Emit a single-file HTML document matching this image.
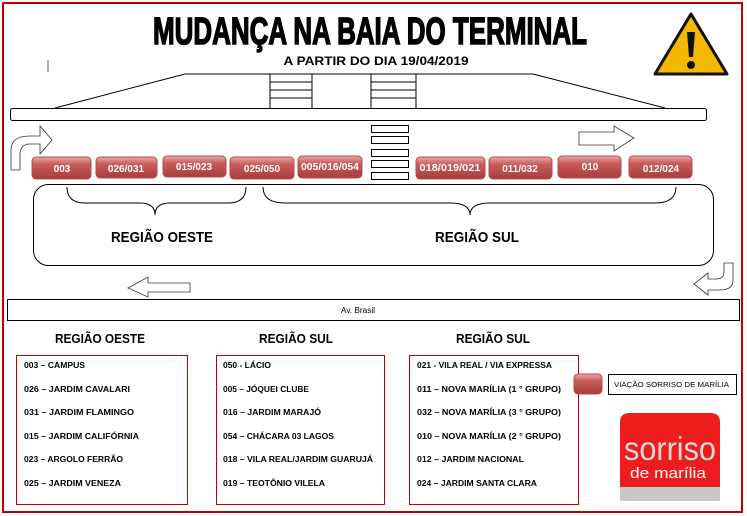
<!DOCTYPE html>
<html><head><meta charset="utf-8"><style>
html,body{margin:0;padding:0;background:#fff;}
svg{display:block;font-family:"Liberation Sans",sans-serif;}
</style></head><body>
<svg width="747" height="516" viewBox="0 0 747 516" xmlns="http://www.w3.org/2000/svg">
<defs>
<linearGradient id="btn" x1="0" y1="0" x2="0" y2="1">
<stop offset="0" stop-color="#e8a8a8"/><stop offset="0.35" stop-color="#c85a5a"/><stop offset="1" stop-color="#a83c3c"/>
</linearGradient>
</defs>
<rect x="3" y="3" width="739" height="509" fill="#fff" stroke="#c00000" stroke-width="2"/>
<!-- title -->
<text x="370" y="44" text-anchor="middle" font-size="38" font-weight="bold" font-family="Liberation Sans Narrow, Liberation Sans, sans-serif" textLength="434" lengthAdjust="spacingAndGlyphs" stroke="#000" stroke-width="1.5">MUDANÇA NA BAIA DO TERMINAL</text>
<text x="376" y="65" text-anchor="middle" font-size="12" font-weight="bold" textLength="185" lengthAdjust="spacingAndGlyphs">A PARTIR DO DIA 19/04/2019</text>
<!-- warning -->
<path d="M691 14 L727 74 L655 74 Z" fill="#f5b800" stroke="#111" stroke-width="3" stroke-linejoin="round"/>
<path d="M687 32 L695 32 L693 57 L689 57 Z" fill="#111"/>
<circle cx="691" cy="65" r="4" fill="#111"/>
<line x1="48" y1="60" x2="48" y2="72" stroke="#555" stroke-width="1"/>
<!-- trapezoid -->
<path d="M55 108 L185 74 L533 74 L665 108" fill="none" stroke="#000" stroke-width="1"/>
<g stroke="#000" stroke-width="1" fill="none">
<line x1="270" y1="74" x2="270" y2="108"/><line x1="312" y1="74" x2="312" y2="108"/>
<line x1="371" y1="74" x2="371" y2="108"/><line x1="416" y1="74" x2="416" y2="108"/>
<line x1="270" y1="82" x2="312" y2="82"/><line x1="270" y1="90" x2="312" y2="90"/><line x1="270" y1="98" x2="312" y2="98"/>
<line x1="371" y1="82" x2="416" y2="82"/><line x1="371" y1="90" x2="416" y2="90"/><line x1="371" y1="98" x2="416" y2="98"/>
</g>
<rect x="10.5" y="108.5" width="696" height="12" rx="2" fill="#fff" stroke="#000"/>
<g fill="#fff" stroke="#000">
<rect x="371.5" y="125.5" width="37" height="7"/><rect x="371.5" y="136.5" width="37" height="7"/>
<rect x="371.5" y="149.5" width="37" height="7"/><rect x="371.5" y="160.5" width="37" height="7"/>
<rect x="371.5" y="172.5" width="37" height="7"/>
</g>
<!-- arrows -->
<path d="M11 170 L11 150 Q11 136 30 136 L40 136 L40 126 L52 140 L40 154 L40 144 L30 144 Q20 144 20 155 L20 170 Z" fill="#fff" stroke="#333" stroke-width="0.8"/>
<path d="M579 132 L614 132 L614 126 L634 138 L614 151 L614 145 L579 145 Z" fill="#fff" stroke="#333" stroke-width="0.8"/>
<path d="M190 283 L148 283 L148 277 L128 288 L148 297 L148 292 L190 292 Z" fill="#fff" stroke="#333" stroke-width="0.8"/>
<path d="M733 263 L733 280 Q733 290 720 290 L708 290 L708 295 L694 284 L708 273 L708 279 L716 279 Q724 279 724 272 L724 263 Z" fill="#fff" stroke="#333" stroke-width="0.8"/>
<!-- buttons -->
<g font-size="10" font-weight="bold" fill="#fff" text-anchor="middle">
<rect x="32" y="157" width="59" height="22" rx="4" fill="url(#btn)" stroke="#b05050"/><text x="62" y="172" fill="#fff">003</text>
<rect x="96" y="157" width="61" height="21" rx="4" fill="url(#btn)" stroke="#b05050"/><text x="126" y="172" fill="#fff">026/031</text>
<rect x="163" y="156" width="63" height="21" rx="4" fill="url(#btn)" stroke="#b05050"/><text x="194" y="170" fill="#fff">015/023</text>
<rect x="230" y="157" width="64" height="22" rx="4" fill="url(#btn)" stroke="#b05050"/><text x="262" y="172" fill="#fff">025/050</text>
<rect x="298" y="156" width="64" height="22" rx="4" fill="url(#btn)" stroke="#b05050"/><text x="330" y="170" fill="#fff" textLength="58" lengthAdjust="spacingAndGlyphs">005/016/054</text>
<rect x="416" y="157" width="69" height="22" rx="4" fill="url(#btn)" stroke="#b05050"/><text x="450" y="171" fill="#fff" textLength="61" lengthAdjust="spacingAndGlyphs">018/019/021</text>
<rect x="489" y="157" width="63" height="22" rx="4" fill="url(#btn)" stroke="#b05050"/><text x="520" y="172" fill="#fff">011/032</text>
<rect x="558" y="156" width="63" height="22" rx="4" fill="url(#btn)" stroke="#b05050"/><text x="590" y="170" fill="#fff">010</text>
<rect x="629" y="156" width="63" height="22" rx="4" fill="url(#btn)" stroke="#b05050"/><text x="661" y="172" fill="#fff">012/024</text>
</g>
<!-- region container -->
<rect x="33.5" y="184.5" width="680" height="81" rx="15" fill="none" stroke="#000"/>
<path d="M67 187 Q67 203 85 203 L140 203 Q155 203 155 215 Q155 203 170 203 L228 203 Q246 203 246 187" fill="none" stroke="#000"/>
<path d="M263 187 Q263 203 285 203 L450 203 Q470 203 470 215 Q470 203 490 203 L655 203 Q676 203 676 187" fill="none" stroke="#000"/>
<text x="162" y="242" text-anchor="middle" font-size="15" font-weight="bold" textLength="102" lengthAdjust="spacingAndGlyphs">REGIÃO OESTE</text>
<text x="477" y="242" text-anchor="middle" font-size="15" font-weight="bold" textLength="84" lengthAdjust="spacingAndGlyphs">REGIÃO SUL</text>
<!-- av brasil -->
<rect x="7.5" y="299.5" width="732" height="21" fill="#fff" stroke="#000"/>
<text x="358" y="313" text-anchor="middle" font-size="8" textLength="34" lengthAdjust="spacingAndGlyphs">Av. Brasil</text>
<!-- headers -->
<g font-size="13" font-weight="bold" text-anchor="middle">
<text x="100" y="343" textLength="90" lengthAdjust="spacingAndGlyphs">REGIÃO OESTE</text>
<text x="296" y="343" textLength="74" lengthAdjust="spacingAndGlyphs">REGIÃO SUL</text>
<text x="493" y="343" textLength="74" lengthAdjust="spacingAndGlyphs">REGIÃO SUL</text>
</g>
<g fill="none" stroke="#c00000" stroke-width="1">
<rect x="16.5" y="355.5" width="171" height="149"/>
<rect x="216.5" y="355.5" width="168" height="149"/>
<rect x="409.5" y="355.5" width="169" height="149"/>
</g>
<g font-size="8" font-weight="bold">
<text x="24" y="368" textLength="61" lengthAdjust="spacingAndGlyphs">003 – CAMPUS</text>
<text x="24" y="392" textLength="106" lengthAdjust="spacingAndGlyphs">026 –  JARDIM CAVALARI</text>
<text x="24" y="415" textLength="110" lengthAdjust="spacingAndGlyphs">031 –  JARDIM FLAMINGO</text>
<text x="24" y="439" textLength="115" lengthAdjust="spacingAndGlyphs">015 –  JARDIM CALIFÓRNIA</text>
<text x="24" y="462" textLength="99" lengthAdjust="spacingAndGlyphs">023 – ARGOLO FERRÃO</text>
<text x="24" y="486" textLength="97" lengthAdjust="spacingAndGlyphs">025 –  JARDIM VENEZA</text>
<text x="223" y="368" textLength="48" lengthAdjust="spacingAndGlyphs">050 - LÁCIO</text>
<text x="223" y="392" textLength="86" lengthAdjust="spacingAndGlyphs">005 – JÓQUEI CLUBE</text>
<text x="223" y="415" textLength="98" lengthAdjust="spacingAndGlyphs">016 – JARDIM MARAJÓ</text>
<text x="223" y="439" textLength="111" lengthAdjust="spacingAndGlyphs">054 – CHÁCARA 03 LAGOS</text>
<text x="223" y="462" textLength="150" lengthAdjust="spacingAndGlyphs">018 – VILA REAL/JARDIM GUARUJÁ</text>
<text x="223" y="486" textLength="102" lengthAdjust="spacingAndGlyphs">019 – TEOTÔNIO VILELA</text>
<text x="417" y="368" textLength="135" lengthAdjust="spacingAndGlyphs">021 - VILA REAL / VIA EXPRESSA</text>
<text x="417" y="392" textLength="144" lengthAdjust="spacingAndGlyphs">011 – NOVA MARÍLIA (1 ° GRUPO)</text>
<text x="417" y="415" textLength="144" lengthAdjust="spacingAndGlyphs">032 – NOVA MARÍLIA (3 ° GRUPO)</text>
<text x="417" y="439" textLength="144" lengthAdjust="spacingAndGlyphs">010 – NOVA MARÍLIA (2 ° GRUPO)</text>
<text x="417" y="462" textLength="107" lengthAdjust="spacingAndGlyphs">012 – JARDIM NACIONAL</text>
<text x="417" y="486" textLength="120" lengthAdjust="spacingAndGlyphs">024 – JARDIM SANTA CLARA</text>
</g>
<!-- legend -->
<rect x="574" y="374" width="28" height="20" rx="4" fill="url(#btn)" stroke="#b05050"/>
<rect x="608.5" y="374.5" width="128" height="20" fill="#fff" stroke="#000"/>
<text x="614" y="387" font-size="7.5" textLength="115" lengthAdjust="spacingAndGlyphs">VIAÇÃO SORRISO DE MARÍLIA</text>
<!-- logo -->
<rect x="620" y="486" width="100" height="15" fill="#c8c8c8"/>
<path d="M620 487 L620 422 Q620 413 630 413 L710 413 Q720 413 720 422 L720 487 Z" fill="#ee1c1c"/>
<text x="670" y="460" text-anchor="middle" font-size="33" fill="#d8d8d8" textLength="92" lengthAdjust="spacingAndGlyphs">sorriso</text>
<text x="668" y="478" text-anchor="middle" font-size="15" fill="#fff" textLength="76" lengthAdjust="spacingAndGlyphs">de marília</text>
</svg>
</body></html>
